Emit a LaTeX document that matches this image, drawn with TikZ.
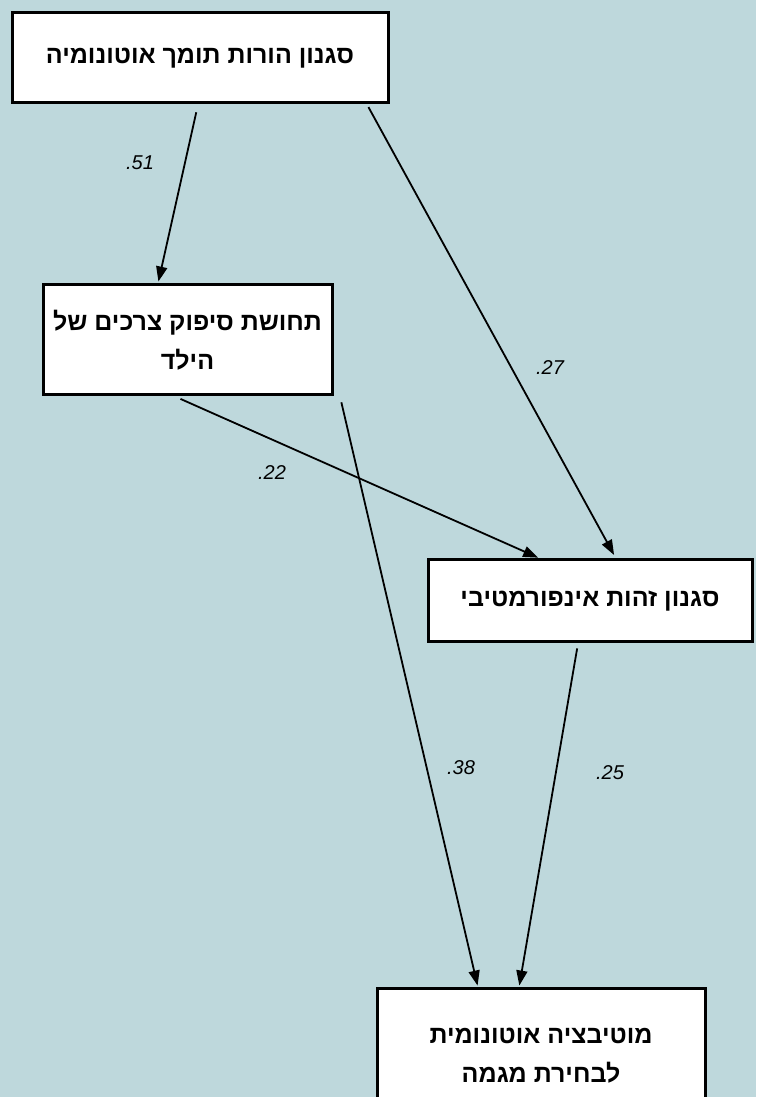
\documentclass[tikz,border=0pt]{standalone}
\usepackage{fontspec}
\setmainfont{Liberation Sans}
\newfontfamily\hebfont[Script=Hebrew]{Liberation Sans}
\TeXXeTstate=1
\usetikzlibrary{arrows.meta}
\definecolor{bgc}{RGB}{190,216,220}
\tikzset{
  box/.style={draw=black, line width=3pt, fill=white, inner sep=0pt, align=center,
     font=\hebfont\bfseries\fontsize{25}{39}\selectfont},
  conn/.style={line width=1.8pt, -{Triangle[length=15pt,width=11pt]}},
  coef/.style={font=\itshape\fontsize{20}{22}\selectfont}
}
\newcommand{\coeftext}[1]{\mbox{.}\mbox{#1}}
\begin{document}
\begin{tikzpicture}[x=1pt,y=1pt]
\fill[bgc] (0,0) rectangle (756,1097);
\useasboundingbox (0,0) rectangle (756,1097);
\node[box, minimum width=376pt, minimum height=90pt] (b1) at (200,1039) {\beginR סגנון הורות תומך אוטונומיה\endR};
\node[box, minimum width=289pt, minimum height=110pt] (b2) at (187.5,757) {\beginR תחושת סיפוק צרכים של\endR\\\beginR הילד\endR};
\node[box, minimum width=324pt, minimum height=82pt] (b3) at (590,496) {\beginR סגנון זהות אינפורמטיבי\endR};
\node[box, minimum width=328pt, minimum height=134pt] (b4) at (541,41) {\beginR מוטיבציה אוטונומית\endR\\\beginR לבחירת מגמה\endR};
\draw[conn, shorten <=8pt, shorten >=2pt] ([xshift=-2pt]b1.south) -- ([xshift=-29.5pt]b2.north);
\draw[conn, shorten <=3pt, shorten >=4pt] ([xshift=167pt]b1.south) -- ([xshift=26pt]b3.north);
\draw[conn, shorten <=6pt, shorten >=2pt] ([xshift=-12.5pt]b2.south) -- ([xshift=-50pt]b3.north);
\draw[conn, shorten <=6pt, shorten >=2pt] ([xshift=152.5pt]b2.south) -- ([xshift=-63pt]b4.north);
\draw[conn, shorten <=5pt, shorten >=2pt] ([xshift=-12pt]b3.south) -- ([xshift=-22pt]b4.north);
\node[coef] (l51) at (140,934) {\coeftext{51}};
\node[coef] (l27) at (550,729) {\coeftext{27}};
\node[coef] (l22) at (272,624) {\coeftext{22}};
\node[coef] (l38) at (461,329) {\coeftext{38}};
\node[coef] (l25) at (610,324) {\coeftext{25}};
\end{tikzpicture}
\end{document}
